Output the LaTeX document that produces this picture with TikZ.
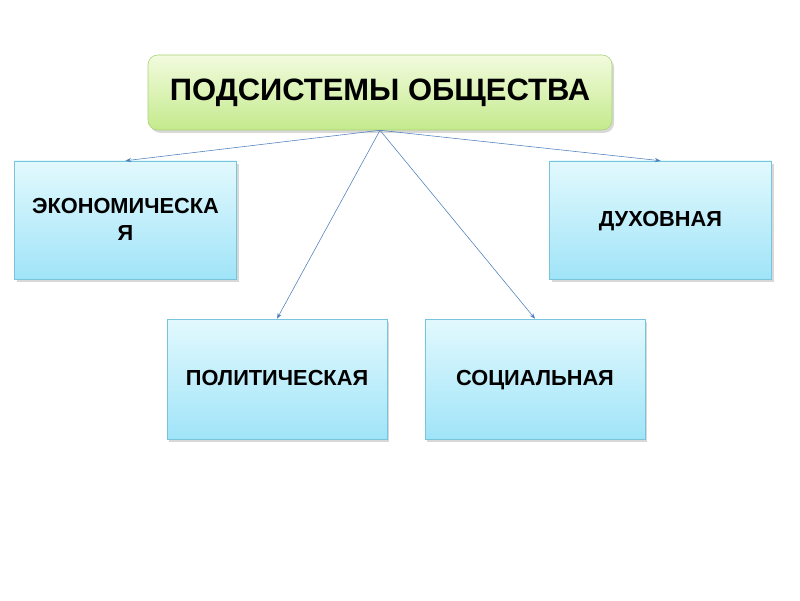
\documentclass[tikz,border=0pt]{standalone}
\usepackage{fontspec}
\setmainfont{Liberation Sans}
\usepackage{xcolor}
\usepackage{tikz}
\usetikzlibrary{arrows.meta, shadows}
\definecolor{topgreen}{RGB}{242,251,222}
\definecolor{botgreen}{RGB}{196,234,140}
\definecolor{rimgreen}{RGB}{170,210,120}
\definecolor{topcyan}{RGB}{226,249,253}
\definecolor{botcyan}{RGB}{160,228,248}
\definecolor{rimcyan}{RGB}{120,196,220}
\definecolor{linkblue}{RGB}{79,129,189}

\begin{document}
\begin{tikzpicture}[
    headbox/.style={draw=rimgreen, rounded corners=7pt, top color=topgreen, bottom color=botgreen,
                    minimum width=11.6cm, minimum height=1.875cm, font=\fontsize{22}{26}\selectfont\bfseries,
                    drop shadow={opacity=0.3, shadow xshift=1.5pt, shadow yshift=-2pt}},
    subbox/.style={draw=rimcyan, top color=topcyan, bottom color=botcyan,
                   minimum width=5.55cm, minimum height=2.95cm, font=\fontsize{15.5}{19}\selectfont\bfseries,
                   align=center, text depth=0.2ex,
                   drop shadow={opacity=0.3, shadow xshift=1.5pt, shadow yshift=-2pt}},
    link/.style={-{Stealth[length=4pt, width=3pt]}, thin, color=linkblue}
  ]
    \useasboundingbox[fill=white] (0,0) rectangle (20,15);

    \node[headbox] (society) at (9.5,12.6875) {ПОДСИСТЕМЫ ОБЩЕСТВА};

    \node[subbox] (econ)   at (3.1375,9.5)  {ЭКОНОМИЧЕСКА\\Я};
    \node[subbox] (spirit) at (16.5125,9.5) {ДУХОВНАЯ};
    \node[subbox, minimum width=5.5cm, minimum height=3cm] (polit)  at (6.925,5.525)  {ПОЛИТИЧЕСКАЯ};
    \node[subbox, minimum width=5.5cm, minimum height=3cm] (social) at (13.375,5.525) {СОЦИАЛЬНАЯ};

    \foreach \b in {econ, spirit, polit, social}
      \draw[link] (society.south) -- (\b.north);

  \end{tikzpicture}
\end{document}
